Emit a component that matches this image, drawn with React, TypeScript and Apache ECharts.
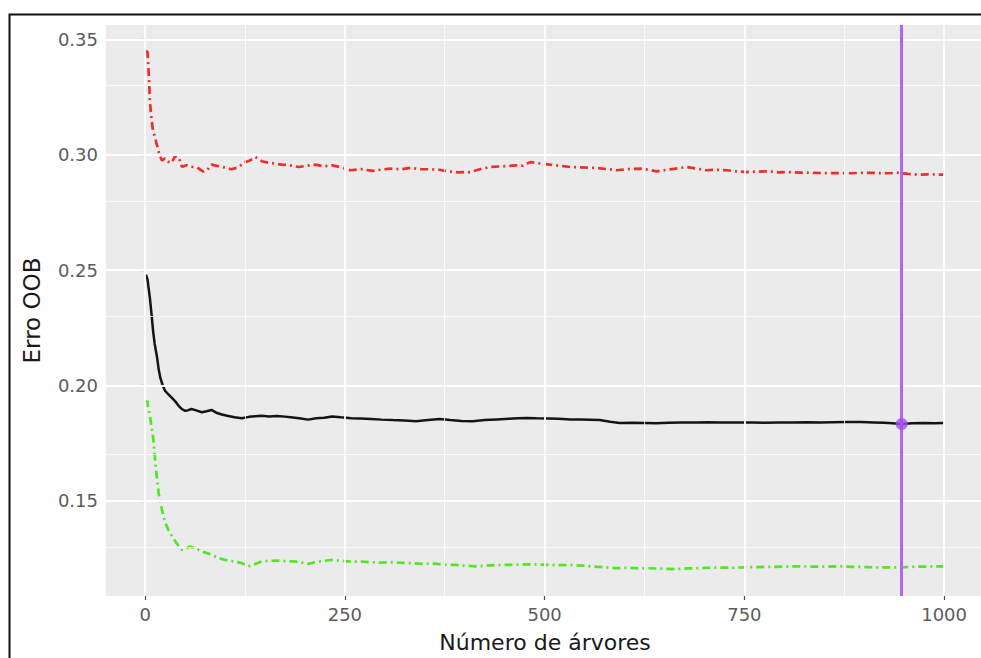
import React, { useEffect, useRef } from "react";
import * as echarts from "echarts";

// Axis breaks (ggplot style) and panel range
const xTicks = [0, 250, 500, 750, 1000];
const xMinor = [125, 375, 625, 875];
const yTicks = [0.15, 0.2, 0.25, 0.3, 0.35];
const yMinor = [0.125, 0.175, 0.225, 0.275, 0.325];
const xRange = [-48.95, 1049.95];
const yRange = [0.10875, 0.35625];

// Red curve (class error, upper)
const redTrees = [1, 3, 5, 6, 8, 10, 12, 15, 18, 21, 25, 29, 33, 38, 42, 46, 52, 58, 65, 73, 78, 83, 90, 96, 102, 108, 116, 125, 131, 138, 146, 154, 162, 171, 180, 192, 202, 213, 224, 234, 246, 257, 270, 285, 296, 307, 320, 332, 345, 357, 368, 378, 392, 407, 420, 432, 448, 465, 473, 482, 495, 507, 520, 532, 548, 565, 578, 590, 605, 620, 630, 640, 657, 678, 690, 703, 715, 728, 740, 753, 765, 778, 793, 807, 820, 832, 845, 857, 870, 882, 898, 916, 930, 941, 955, 966, 980, 995, 1000];
const redErr = [0.345, 0.3445, 0.332, 0.323, 0.3155, 0.31, 0.308, 0.304, 0.3, 0.2975, 0.2985, 0.297, 0.2965, 0.2996, 0.299, 0.2948, 0.2955, 0.2948, 0.2945, 0.2927, 0.2935, 0.2957, 0.2952, 0.2948, 0.2942, 0.2937, 0.2945, 0.2968, 0.2975, 0.299, 0.2972, 0.2966, 0.2962, 0.2957, 0.2955, 0.2947, 0.2952, 0.2957, 0.295, 0.2954, 0.2945, 0.2933, 0.2938, 0.293, 0.2936, 0.294, 0.2937, 0.2943, 0.2938, 0.2937, 0.2935, 0.2928, 0.2924, 0.2925, 0.2938, 0.2947, 0.295, 0.2954, 0.2952, 0.2968, 0.2962, 0.2957, 0.2952, 0.2947, 0.2945, 0.2943, 0.2938, 0.2933, 0.2938, 0.294, 0.2935, 0.2928, 0.2937, 0.2947, 0.294, 0.2933, 0.2935, 0.2933, 0.2928, 0.2925, 0.2927, 0.2928, 0.2924, 0.2925, 0.2923, 0.2922, 0.2921, 0.292, 0.2921, 0.292, 0.2922, 0.2921, 0.292, 0.2922, 0.2917, 0.2914, 0.2915, 0.2914, 0.2914];

// Black curve (overall OOB error)
const oobTrees = [1, 3, 6, 8, 10, 12, 15, 17, 19, 22, 25, 29, 33, 38, 42, 46, 50, 54, 58, 64, 71, 77, 83, 89, 96, 104, 112, 121, 130, 138, 146, 155, 165, 175, 185, 195, 204, 214, 224, 234, 245, 258, 270, 283, 296, 310, 325, 339, 354, 369, 382, 396, 410, 425, 440, 455, 467, 477, 490, 505, 518, 532, 545, 557, 569, 582, 594, 610, 625, 640, 655, 672, 691, 705, 720, 742, 760, 775, 793, 810, 828, 845, 860, 878, 896, 912, 925, 935, 947, 960, 975, 988, 1000];
const oobErr = [0.248, 0.246, 0.2379, 0.231, 0.2236, 0.218, 0.2121, 0.207, 0.2034, 0.2, 0.1977, 0.1962, 0.1948, 0.193, 0.1912, 0.1898, 0.189, 0.1893, 0.1898, 0.1892, 0.1884, 0.1888, 0.1894, 0.1882, 0.1874, 0.1868, 0.1862, 0.1858, 0.1864, 0.1867, 0.1869, 0.1866, 0.1868, 0.1865, 0.1861, 0.1857, 0.1852, 0.1858, 0.186, 0.1866, 0.1862, 0.1858, 0.1857, 0.1855, 0.1852, 0.185, 0.1848, 0.1845, 0.185, 0.1855, 0.185, 0.1846, 0.1845, 0.185, 0.1853, 0.1856, 0.1858, 0.1859, 0.1858, 0.1857, 0.1856, 0.1853, 0.1852, 0.1851, 0.185, 0.1843, 0.1837, 0.1838, 0.1837, 0.1836, 0.1838, 0.184, 0.184, 0.1841, 0.1839, 0.1839, 0.184, 0.1838, 0.1839, 0.184, 0.1841, 0.184, 0.1841, 0.1842, 0.1842, 0.184, 0.1838, 0.1836, 0.1833, 0.1836, 0.1837, 0.1836, 0.1837];

// Green curve (class error, lower)
const greenTrees = [1, 3, 4, 6, 8, 10, 13, 15, 17, 20, 23, 26, 29, 33, 38, 42, 46, 51, 56, 63, 71, 79, 88, 94, 100, 110, 121, 129, 137, 146, 156, 167, 178, 188, 196, 204, 214, 224, 234, 246, 258, 270, 283, 296, 310, 322, 334, 348, 362, 375, 390, 403, 416, 430, 446, 462, 476, 490, 502, 515, 530, 548, 560, 575, 589, 605, 620, 629, 645, 665, 680, 700, 716, 735, 750, 767, 785, 800, 818, 835, 852, 869, 885, 903, 920, 935, 947, 960, 975, 992, 1000];
const greenErr = [0.1927, 0.1932, 0.1898, 0.187, 0.182, 0.1776, 0.166, 0.159, 0.1531, 0.148, 0.1431, 0.14, 0.1374, 0.135, 0.1323, 0.1305, 0.1287, 0.1292, 0.1302, 0.1295, 0.128, 0.1272, 0.1259, 0.125, 0.1244, 0.1238, 0.123, 0.1216, 0.1225, 0.1237, 0.124, 0.1241, 0.1238, 0.1237, 0.1232, 0.1227, 0.1235, 0.124, 0.1244, 0.124, 0.1236, 0.1237, 0.1234, 0.1232, 0.1234, 0.1231, 0.123, 0.1227, 0.1228, 0.1223, 0.1222, 0.1218, 0.1216, 0.122, 0.1222, 0.1223, 0.1225, 0.1224, 0.1223, 0.1221, 0.1222, 0.1219, 0.1215, 0.1212, 0.1208, 0.121, 0.1207, 0.1208, 0.1206, 0.1204, 0.1207, 0.1209, 0.1211, 0.121, 0.1212, 0.1213, 0.1214, 0.1215, 0.1216, 0.1215, 0.1215, 0.1216, 0.1214, 0.1213, 0.1211, 0.1212, 0.1212, 0.1214, 0.1215, 0.1216, 0.1216];

// Selected number of trees (vertical line) and its OOB error
const bestTrees = 947;
const bestErr = 0.1833;

const FONT = "DejaVu Sans";

const zip = (xs: number[], ys: number[]) => xs.map((x, i) => [x, ys[i]]);

export default function App() {
  const ref = useRef<HTMLDivElement>(null);

  useEffect(() => {
    if (!ref.current) return;
    const chart = echarts.init(ref.current, null, { renderer: "svg" });

    const gridLines = [
      ...xMinor.map((v) => ({ xAxis: v, lineStyle: { color: "#ffffff", width: 0.8, type: "solid" } })),
      ...yMinor.map((v) => ({ yAxis: v, lineStyle: { color: "#ffffff", width: 0.8, type: "solid" } })),
      ...xTicks.map((v) => ({ xAxis: v, lineStyle: { color: "#ffffff", width: 1.8, type: "solid" } })),
      ...yTicks.map((v) => ({ yAxis: v, lineStyle: { color: "#ffffff", width: 1.8, type: "solid" } })),
    ];

    chart.setOption({
      animation: false,
      backgroundColor: "#ffffff",
      grid: {
        left: 106,
        top: 25,
        width: 878,
        height: 574,
        show: true,
        backgroundColor: "#EBEBEB",
        borderWidth: 0,
      },
      xAxis: {
        type: "value",
        min: xRange[0],
        max: xRange[1],
        name: "Número de árvores",
        nameLocation: "middle",
        nameGap: 35,
        nameTextStyle: { fontFamily: FONT, fontSize: 22, color: "#1a1a1a" },
        axisLine: { show: false },
        axisTick: { show: true, length: 4, customValues: xTicks, lineStyle: { color: "#4d4d4d", width: 1.2 } },
        axisLabel: {
          customValues: xTicks,
          margin: 9,
          fontFamily: FONT,
          fontSize: 18,
          color: "#5c5c5c",
          formatter: (v: number) => String(v),
        },
        splitLine: { show: false },
      },
      yAxis: {
        type: "value",
        min: yRange[0],
        max: yRange[1],
        name: "Erro OOB",
        nameLocation: "middle",
        nameGap: 63,
        nameTextStyle: { fontFamily: FONT, fontSize: 23, color: "#1a1a1a" },
        axisLine: { show: false },
        axisTick: { show: true, length: 4, customValues: yTicks, lineStyle: { color: "#4d4d4d", width: 1.2 } },
        axisLabel: {
          customValues: yTicks,
          margin: 8,
          fontFamily: FONT,
          fontSize: 18,
          color: "#5c5c5c",
          formatter: (v: number) => v.toFixed(2),
        },
        splitLine: { show: false },
      },
      series: [
        {
          name: "grid",
          type: "line",
          data: [],
          z: 1,
          silent: true,
          markLine: {
            silent: true,
            symbol: "none",
            label: { show: false },
            animation: false,
            data: gridLines,
          },
        },
        {
          name: "Classe 1",
          type: "line",
          data: zip(redTrees, redErr),
          showSymbol: false,
          symbol: "none",
          z: 3,
          lineStyle: { color: "#e8302e", width: 2.7, type: [8, 4, 2, 4] },
        },
        {
          name: "OOB",
          type: "line",
          data: zip(oobTrees, oobErr),
          showSymbol: false,
          symbol: "none",
          z: 3,
          lineStyle: { color: "#141414", width: 2.5, type: "solid" },
        },
        {
          name: "Classe 0",
          type: "line",
          data: zip(greenTrees, greenErr),
          showSymbol: false,
          symbol: "none",
          z: 3,
          lineStyle: { color: "#52e624", width: 2.7, type: [8, 4, 2, 4] },
        },
        {
          name: "Melhor",
          type: "scatter",
          data: [[bestTrees, bestErr]],
          symbolSize: 12,
          z: 5,
          itemStyle: { color: "#a24ef0" },
          markLine: {
            silent: true,
            symbol: "none",
            label: { show: false },
            animation: false,
            lineStyle: { color: "#b264f3", width: 3, type: "solid" },
            data: [{ xAxis: bestTrees }],
          },
        },
      ],
      graphic: [
        {
          type: "polyline",
          z: 100,
          silent: true,
          shape: { points: [[9.5, 670], [9.5, 14.5], [995, 14.5]] },
          style: { stroke: "#111111", lineWidth: 2, fill: "none" },
        },
      ],
    });

    return () => chart.dispose();
  }, []);

  return (
    <div style={{ position: "absolute", left: 0, top: 0, width: 981, height: 658, overflow: "hidden", background: "#fff" }}>
      <div ref={ref} style={{ position: "absolute", left: 0, top: 0, width: 995, height: 658 }} />
    </div>
  );
}
